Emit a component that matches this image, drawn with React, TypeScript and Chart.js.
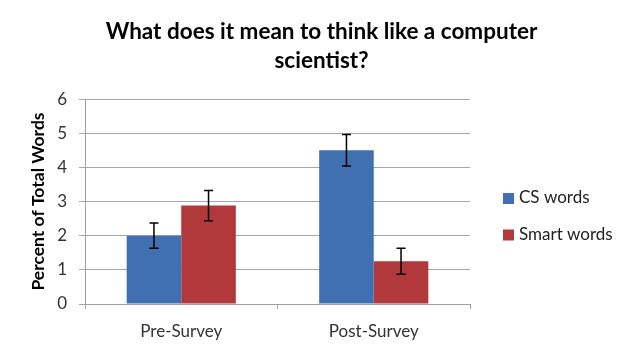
import React, { useEffect, useRef } from "react";
import { Chart, registerables } from "chart.js";

Chart.register(...registerables);

const categories = ["Pre-Survey", "Post-Survey"];
const seriesNames = ["CS words", "Smart words"];
const csWords = [2.0, 4.5];
const smartWords = [2.88, 1.25];
const csErr = [0.37, 0.46];
const smartErr = [0.44, 0.38];
const yTicks = [0, 1, 2, 3, 4, 5, 6];

const BLUE = "#4070b2";
const RED = "#b2393b";
const FONT = "Lato, 'Open Sans', sans-serif";

const errorBarPlugin = {
  id: "errorBars",
  afterDatasetsDraw(chart: any) {
    const ctx = chart.ctx;
    const yScale = chart.scales.y;
    chart.data.datasets.forEach((ds: any, di: number) => {
      const meta = chart.getDatasetMeta(di);
      meta.data.forEach((bar: any, i: number) => {
        const v = ds.data[i];
        const e = ds.errors[i];
        const x = bar.x;
        const yTop = yScale.getPixelForValue(v + e);
        const yBot = yScale.getPixelForValue(v - e);
        ctx.save();
        ctx.strokeStyle = "#000";
        ctx.lineWidth = 1.5;
        ctx.beginPath();
        ctx.moveTo(x, yTop);
        ctx.lineTo(x, yBot);
        ctx.moveTo(x - 4.5, yTop);
        ctx.lineTo(x + 4.5, yTop);
        ctx.moveTo(x - 4.5, yBot);
        ctx.lineTo(x + 4.5, yBot);
        ctx.stroke();
        ctx.restore();
      });
    });
  },
};

const legendPlugin = {
  id: "customLegend",
  afterDraw(chart: any) {
    const ctx = chart.ctx;
    const x0 = chart.chartArea.right + 33;
    const yStart = 198;
    const gap = 36.5;
    ctx.save();
    chart.data.datasets.forEach((ds: any, i: number) => {
      const y = yStart + i * gap;
      ctx.fillStyle = ds.backgroundColor;
      ctx.fillRect(x0, y - 5, 11, 11);
      ctx.fillStyle = "#222";
      ctx.font = `17px ${FONT}`;
      ctx.textBaseline = "middle";
      ctx.textAlign = "left";
      ctx.fillText(ds.label, x0 + 16, y);
    });
    ctx.restore();
  },
};

export default function App() {
  const ref = useRef<HTMLCanvasElement>(null);
  useEffect(() => {
    document.body.style.margin = "0";
    const chart = new Chart(ref.current!, {
      type: "bar",
      data: {
        labels: categories,
        datasets: [
          { label: seriesNames[0], data: csWords, errors: csErr, backgroundColor: BLUE, categoryPercentage: 0.567, barPercentage: 1 } as any,
          { label: seriesNames[1], data: smartWords, errors: smartErr, backgroundColor: RED, categoryPercentage: 0.567, barPercentage: 1 } as any,
        ],
      },
      options: {
        animation: false,
        responsive: false,
        layout: { padding: 0 },
        plugins: {
          legend: { display: false },
          tooltip: { enabled: false },
          title: {
            display: true,
            text: ["What does it mean to think like a computer", "scientist?"],
            color: "#000",
            font: { family: FONT, size: 22.5, weight: "bold", lineHeight: 1.29 },
            padding: { top: 17, bottom: 24 },
          },
        },
        scales: {
          x: {
            afterFit(scale: any) {
              scale.height = 52;
            },
            grid: { display: true, drawOnChartArea: false, drawTicks: true, offset: true, tickLength: 5, color: "#a0a0a0" },
            border: { display: true, color: "#a0a0a0" },
            ticks: { color: "#333", font: { family: FONT, size: 17 }, padding: 12 },
          },
          y: {
            min: 0,
            max: 6,
            afterFit(scale: any) {
              scale.width = 85;
            },
            afterBuildTicks(scale: any) {
              scale.ticks = yTicks.map((v) => ({ value: v }));
            },
            grid: { color: "#a6a6a6", tickLength: 6 },
            border: { display: true, color: "#a0a0a0" },
            ticks: { color: "#333", font: { family: FONT, size: 17 }, padding: 12 },
            title: {
              display: true,
              text: "Percent of Total Words",
              color: "#000",
              font: { family: FONT, size: 17.5, weight: "bold" },
              padding: { top: 27.5, bottom: 0 },
            },
          },
          y2: {
            position: "right",
            display: true,
            afterFit(scale: any) {
              scale.width = 173;
            },
            grid: { display: false },
            border: { display: false },
            ticks: { display: false },
          },
        },
      },
      plugins: [errorBarPlugin, legendPlugin],
    });
    return () => chart.destroy();
  }, []);
  return <canvas ref={ref} width={643} height={356} style={{ display: "block" }} />;
}
